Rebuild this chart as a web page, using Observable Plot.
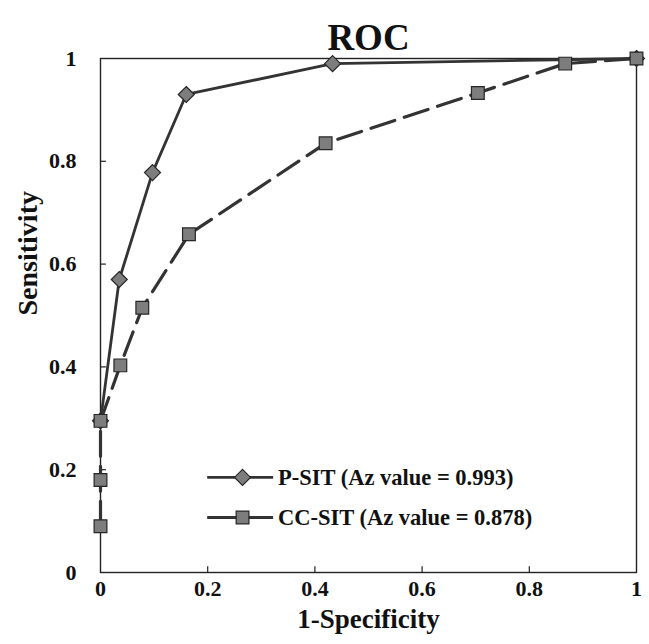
<!DOCTYPE html>
<html>
<head>
<meta charset="utf-8">
<script src="https://cdn.jsdelivr.net/npm/d3@7"></script>
<script src="https://cdn.jsdelivr.net/npm/@observablehq/plot@0.6"></script>
<style>
  html, body { margin: 0; padding: 0; background: #fff; }
  #chart { width: 649px; height: 644px; }
</style>
</head>
<body>
<div id="chart"></div>
<script>
// ---- data ----
const title = "ROC";
const xLabel = "1-Specificity";
const yLabel = "Sensitivity";

const xTicks = [0, 0.2, 0.4, 0.6, 0.8, 1];
const yTicks = [0, 0.2, 0.4, 0.6, 0.8, 1];
const tickLabels = ["0", "0.2", "0.4", "0.6", "0.8", "1"];

const seriesNames = ["P-SIT (Az value = 0.993)", "CC-SIT (Az value = 0.878)"];

const pSitX = [0, 0.035, 0.097, 0.16, 0.433, 1];
const pSitY = [0.295, 0.57, 0.778, 0.93, 0.99, 1];

const ccSitX = [0, 0, 0, 0.037, 0.078, 0.165, 0.42, 0.704, 0.867, 1];
const ccSitY = [0.09, 0.18, 0.295, 0.403, 0.515, 0.658, 0.835, 0.933, 0.99, 1];

// ---- build tables ----
const pSit = pSitX.map((x, i) => ({x, y: pSitY[i]}));
const ccSit = ccSitX.map((x, i) => ({x, y: ccSitY[i]}));
const xTickRows = xTicks.map((v, i) => ({v, label: tickLabels[i]}));
const yTickRows = yTicks.map((v, i) => ({v, label: tickLabels[i]}));

// legend layout (inside the frame)
const legX1 = 0.2, legX2 = 0.323, legMark = 0.265, legText = 0.331;
const legRows = [0.185, 0.107];
const legend = seriesNames.map((name, i) => ({name, y: legRows[i]}));

const font = "'Liberation Serif', 'Times New Roman', serif";
const lineColor = "#333";
const markFill = "#7d7d7d";
const markStroke = "#262626";

const chart = Plot.plot({
  width: 649,
  height: 644,
  marginLeft: 100,
  marginRight: 13,
  marginTop: 58,
  marginBottom: 72,
  x: {domain: [0, 1], axis: null},
  y: {domain: [0, 1], axis: null},
  style: {fontFamily: font, background: "#fff", overflow: "visible"},
  marks: [
    // frame
    Plot.frame({stroke: "#222", strokeWidth: 1.4}),
    // inward ticks
    Plot.ruleX(xTickRows.filter(d => d.v > 0 && d.v < 1), {x: "v", y1: 0, y2: 0.011, stroke: "#222", strokeWidth: 1.2}),
    Plot.ruleY(yTickRows.filter(d => d.v > 0 && d.v < 1), {y: "v", x1: 0, x2: 0.011, stroke: "#222", strokeWidth: 1.2}),
    // tick labels
    Plot.text(xTickRows, {x: "v", text: "label", frameAnchor: "bottom", dy: 23, fontSize: 22, fontWeight: "bold", fill: "#111"}),
    Plot.text(yTickRows, {y: "v", text: "label", frameAnchor: "left", dx: -24, textAnchor: "end", fontSize: 22, fontWeight: "bold", fill: "#111"}),
    // axis titles and title
    Plot.text([xLabel], {frameAnchor: "bottom", dy: 55, fontSize: 27, fontWeight: "bold", fill: "#111"}),
    Plot.text([yLabel], {frameAnchor: "left", dx: -72, rotate: -90, fontSize: 28, fontWeight: "bold", fill: "#111"}),
    Plot.text([title], {frameAnchor: "top", dy: -35, fontSize: 37, fontWeight: "bold", fill: "#111"}),
    // P-SIT
    Plot.line(pSit, {x: "x", y: "y", stroke: lineColor, strokeWidth: 2.8}),
    Plot.dot(pSit, {x: "x", y: "y", symbol: "diamond2", r: 7.2, fill: markFill, stroke: markStroke, strokeWidth: 1.2}),
    // CC-SIT
    Plot.line(ccSit, {x: "x", y: "y", stroke: lineColor, strokeWidth: 3.2, strokeDasharray: "25,10"}),
    Plot.dot(ccSit, {x: "x", y: "y", symbol: "square", r: 7.2, fill: markFill, stroke: markStroke, strokeWidth: 1.2}),
    // legend
    Plot.ruleY(legend, {y: "y", x1: legX1, x2: legX2, stroke: lineColor, strokeWidth: 2.8}),
    Plot.dot(legend.slice(0, 1), {x: legMark, y: "y", symbol: "diamond2", r: 7.2, fill: markFill, stroke: markStroke, strokeWidth: 1.2}),
    Plot.dot(legend.slice(1), {x: legMark, y: "y", symbol: "square", r: 7.2, fill: markFill, stroke: markStroke, strokeWidth: 1.2}),
    Plot.text(legend, {x: legText, y: "y", text: "name", textAnchor: "start", fontSize: 22.5, fontWeight: "bold", fill: "#111"})
  ]
});
document.getElementById("chart").appendChild(chart);
</script>
</body>
</html>
